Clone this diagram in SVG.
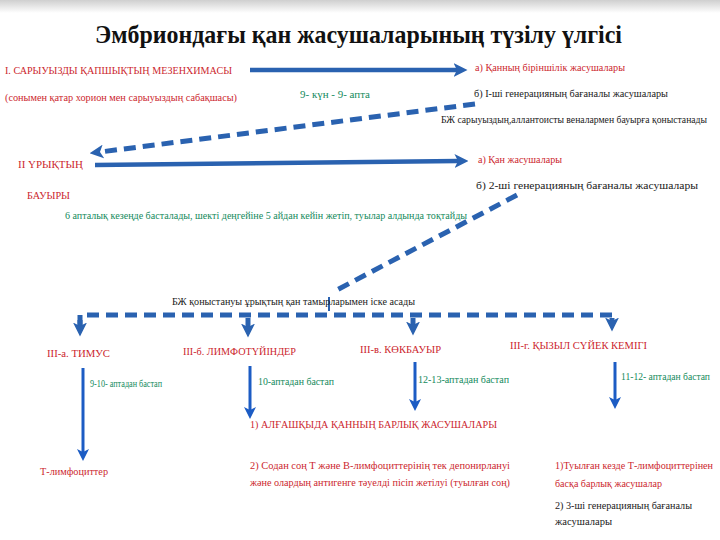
<svg xmlns="http://www.w3.org/2000/svg" width="720" height="540" viewBox="0 0 720 540" font-family="'Liberation Serif', 'DejaVu Serif', serif">
<defs>
<linearGradient id="band" x1="0" y1="0" x2="0" y2="1">
<stop offset="0" stop-color="#cfcfcf"/>
<stop offset="1" stop-color="#ffffff"/>
</linearGradient>
<marker id="ah" viewBox="0 0 12 12" refX="3" refY="6" markerWidth="14" markerHeight="14" markerUnits="userSpaceOnUse" orient="auto">
<path d="M0,0 L12,6 L0,12 L3,6 Z" fill="#2a62b0"/>
</marker>
<marker id="ahs" viewBox="0 0 12 12" refX="3" refY="6" markerWidth="12" markerHeight="12" markerUnits="userSpaceOnUse" orient="auto">
<path d="M0,0 L12,6 L0,12 L3,6 Z" fill="#1c5cc4"/>
</marker>
<style>
text{font-family:'Liberation Serif','DejaVu Serif',serif;font-size:10.5px}
.t{font-size:25px;font-weight:bold;fill:#111}
.r{fill:#cc1f2e}
.g{fill:#138a5c}
.k{fill:#1a1a1a}
.sm{font-size:9.5px}
.solid{stroke:#2a62b0;stroke-width:4.5;fill:none}
.dash{stroke:#2a62b0;stroke-width:5;fill:none;stroke-dasharray:12 7}
.thin{stroke:#1c5cc4;stroke-width:3;fill:none}
</style>
</defs>
<rect x="0" y="0" width="720" height="540" fill="#ffffff"/>
<rect x="0" y="0" width="720" height="13" fill="url(#band)"/>

<g id="title"><text class="t" x="95" y="43" textLength="527" lengthAdjust="spacingAndGlyphs">Эмбриондағы қан жасушаларының түзілу үлгісі</text></g>

<g id="connectors">
<line class="solid" x1="250" y1="70" x2="457" y2="70" marker-end="url(#ah)"/>
<line class="dash" x1="475" y1="104" x2="100" y2="152" marker-end="url(#ah)"/>
<line class="solid" x1="95" y1="165" x2="458" y2="161" marker-end="url(#ah)"/>
<line class="dash" x1="517" y1="195" x2="333" y2="292"/>
<line stroke="#2a62b0" stroke-width="2" x1="329" y1="297" x2="329" y2="311"/>
<path class="dash" d="M80,327 L80,315 L612,315 L612,322"/>
<line stroke="#2a62b0" stroke-width="5" x1="80" y1="320" x2="80" y2="326" marker-end="url(#ah)"/>
<line stroke="#2a62b0" stroke-width="5" x1="248" y1="318" x2="248" y2="327" marker-end="url(#ah)"/>
<line stroke="#2a62b0" stroke-width="5" x1="413" y1="318" x2="413" y2="325" marker-end="url(#ah)"/>
<line stroke="#2a62b0" stroke-width="5" x1="612" y1="318" x2="612" y2="321" marker-end="url(#ah)"/>
<line class="thin" x1="83" y1="368" x2="83" y2="452" marker-end="url(#ahs)"/>
<line class="thin" x1="250" y1="366" x2="250" y2="410" marker-end="url(#ahs)"/>
<line class="thin" x1="415" y1="362" x2="415" y2="402" marker-end="url(#ahs)"/>
<line class="thin" x1="615" y1="362" x2="615" y2="400" marker-end="url(#ahs)"/>
</g>

<g id="n-yolk">
<text class="r" x="5" y="74" textLength="227" lengthAdjust="spacingAndGlyphs">І. САРЫУЫЗДЫ ҚАПШЫҚТЫҢ МЕЗЕНХИМАСЫ</text>
<text class="r" x="5" y="101" textLength="232" lengthAdjust="spacingAndGlyphs">(сонымен қатар хорион  мен сарыуыздың сабақшасы)</text>
</g>
<g id="n-time1"><text class="g" x="300" y="98" textLength="70" lengthAdjust="spacingAndGlyphs">9- күн  -  9- апта</text></g>
<g id="n-out1">
<text class="r" x="475" y="71" textLength="150" lengthAdjust="spacingAndGlyphs">а) Қанның біріншілік жасушалары</text>
<text class="k" x="474" y="97" textLength="194" lengthAdjust="spacingAndGlyphs">б) I-ші генерацияның бағаналы жасушалары</text>
<text class="k sm" x="441" y="123" textLength="266" lengthAdjust="spacingAndGlyphs">БЖ сарыуыздың,аллантоисты веналармен бауырға қоныстанады</text>
</g>

<g id="n-liver">
<text class="r" x="18" y="168" textLength="65" lengthAdjust="spacingAndGlyphs">II ҮРЫҚТЫҢ</text>
<text class="r" x="27" y="199" textLength="43" lengthAdjust="spacingAndGlyphs">БАУЫРЫ</text>
<text class="g" x="65" y="219" textLength="402" lengthAdjust="spacingAndGlyphs">6 апталық кезеңде басталады, шекті деңгейіне 5 айдан кейін жетіп, туылар алдында тоқтайды</text>
</g>
<g id="n-out2">
<text class="r" x="478" y="163" textLength="84" lengthAdjust="spacingAndGlyphs">а) Қан жасушалары</text>
<text class="k" x="476" y="189" textLength="222" lengthAdjust="spacingAndGlyphs">б) 2-ші генерацияның бағаналы жасушалары</text>
</g>

<g id="n-settle"><text class="k" x="172" y="305" textLength="243" lengthAdjust="spacingAndGlyphs">БЖ қоныстануы ұрықтың қан тамырларымен іске асады</text></g>

<g id="n-thymus">
<text class="r" x="47" y="357" textLength="63" lengthAdjust="spacingAndGlyphs">III-а. ТИМУС</text>
<text class="g" x="90" y="387" textLength="72" lengthAdjust="spacingAndGlyphs">9-10- аптадан бастап</text>
<text class="r" x="40" y="475" textLength="68" lengthAdjust="spacingAndGlyphs">Т-лимфоциттер</text>
</g>
<g id="n-lymph">
<text class="r" x="183" y="355" textLength="113" lengthAdjust="spacingAndGlyphs">III-б. ЛИМФОТҮЙІНДЕР</text>
<text class="g" x="258" y="385" textLength="76" lengthAdjust="spacingAndGlyphs">10-аптадан бастап</text>
</g>
<g id="n-spleen">
<text class="r" x="360" y="353" textLength="81" lengthAdjust="spacingAndGlyphs">III-в. КӨКБАУЫР</text>
<text class="g" x="418" y="383" textLength="91" lengthAdjust="spacingAndGlyphs">12-13-аптадан бастап</text>
<text class="r" x="250" y="428" textLength="247" lengthAdjust="spacingAndGlyphs">1) АЛҒАШҚЫДА ҚАННЫҢ БАРЛЫҚ ЖАСУШАЛАРЫ</text>
<text class="r" x="250" y="469" textLength="260" lengthAdjust="spacingAndGlyphs">2) Содан соң Т және В-лимфоциттерінің  тек  депонирлануі</text>
<text class="r" x="250" y="486" textLength="260" lengthAdjust="spacingAndGlyphs">және олардың антигенге тәуелді пісіп жетілуі (туылған соң)</text>
</g>
<g id="n-marrow">
<text class="r" x="510" y="349" textLength="137" lengthAdjust="spacingAndGlyphs">III-г. ҚЫЗЫЛ СҮЙЕК КЕМІГІ</text>
<text class="g" x="621" y="380" textLength="89" lengthAdjust="spacingAndGlyphs">11-12- аптадан бастап</text>
<text class="r" x="555" y="469" textLength="158" lengthAdjust="spacingAndGlyphs">1)Туылған кезде Т-лимфоциттерінен</text>
<text class="r" x="555" y="487" textLength="107" lengthAdjust="spacingAndGlyphs">басқа барлық жасушалар</text>
<text class="k" x="555" y="509" textLength="137" lengthAdjust="spacingAndGlyphs">2) 3-ші генерацияның бағаналы</text>
<text class="k" x="555" y="525" textLength="57" lengthAdjust="spacingAndGlyphs">жасушалары</text>
</g>
</svg>
